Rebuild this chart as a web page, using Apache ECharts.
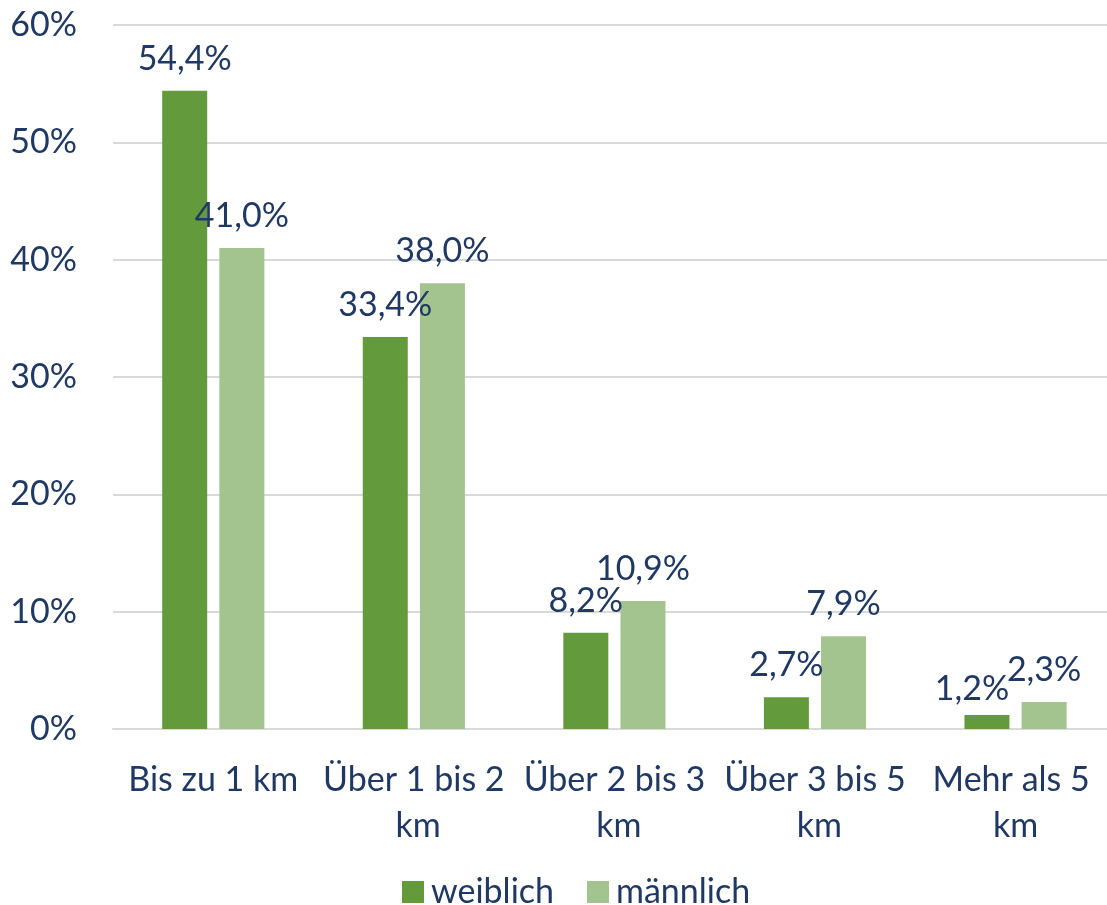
<!DOCTYPE html>
<html><head><meta charset="utf-8">
<script src="https://cdn.jsdelivr.net/npm/echarts@6/dist/echarts.min.js"></script>
<style>html,body{margin:0;padding:0;background:#fff;overflow:hidden}#c{width:1116px;height:905px}</style>
</head><body><div id="c"></div>
<script>
const categories = ['Bis zu 1 km', 'Über 1 bis 2 km', 'Über 2 bis 3 km', 'Über 3 bis 5 km', 'Mehr als 5 km'];
const weiblich = [54.4, 33.4, 8.2, 2.7, 1.2];
const maennlich = [41.0, 38.0, 10.9, 7.9, 2.3];
const seriesNames = ['weiblich', 'männlich'];
const yTicks = [0, 10, 20, 30, 40, 50, 60];

const navy = '#1f3864';
const font = 'Lato, "Open Sans", sans-serif';
const fmt = p => p.value.toFixed(1).replace('.', ',') + '%';
const lbl = {show: true, position: 'top', distance: 15, color: navy, fontSize: 34, fontFamily: font, formatter: fmt};
// nudge the last weiblich label left/down so it does not collide (as in the original)
const weiblichData = weiblich.map((v, i) => i === weiblich.length - 1 ? {value: v, label: {offset: [-15, 6]}} : v);

const chart = echarts.init(document.getElementById('c'), null, {renderer: 'canvas'});
chart.setOption({
  animation: false,
  textStyle: {fontFamily: font},
  grid: {left: 113, right: 0, top: 25, bottom: 176, containLabel: false},
  legend: {
    data: seriesNames, left: 397, top: 870, itemWidth: 22, itemHeight: 22, itemGap: 33, icon: 'rect',
    textStyle: {color: navy, fontSize: 34, fontFamily: font, padding: [0, 0, 0, 2]}
  },
  xAxis: {
    type: 'category', data: categories,
    axisLine: {lineStyle: {color: '#d9d9d9', width: 2}}, axisTick: {show: false},
    axisLabel: {interval: 0, color: navy, fontSize: 34, fontFamily: font, lineHeight: 46, margin: 28, width: 195, overflow: 'break'}
  },
  yAxis: {
    type: 'value', min: yTicks[0], max: yTicks[yTicks.length - 1], interval: 10,
    axisLabel: {formatter: '{value}%', color: navy, fontSize: 34, fontFamily: font, margin: 36},
    splitLine: {lineStyle: {color: '#d9d9d9', width: 2}},
    axisLine: {show: false}, axisTick: {show: false}
  },
  series: [
    {name: seriesNames[0], type: 'bar', data: weiblichData, barWidth: 45, barGap: '27%', itemStyle: {color: '#639a3c'}, label: lbl},
    {name: seriesNames[1], type: 'bar', data: maennlich, barWidth: 45, itemStyle: {color: '#a3c48f'}, label: lbl}
  ]
});
</script></body></html>
